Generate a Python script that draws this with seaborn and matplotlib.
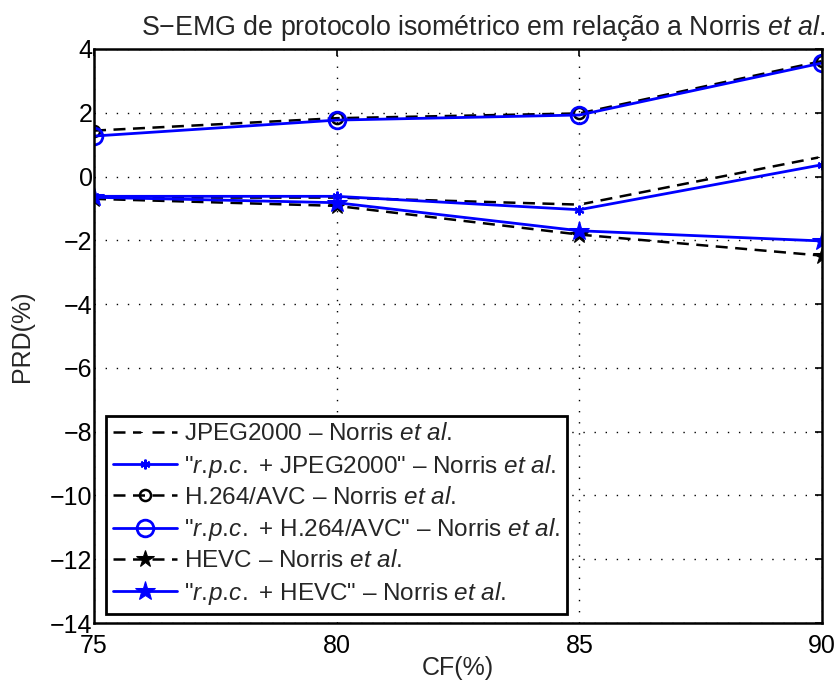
import matplotlib
matplotlib.use("Agg")
import matplotlib.pyplot as plt
import seaborn as sns

# data
cf = [75, 80, 85, 90]
jpeg_norris = [-0.66, -0.66, -0.88, 0.62]
rpc_jpeg_norris = [-0.62, -0.62, -1.04, 0.37]
h264_norris = [1.44, 1.83, 1.98, 3.62]
rpc_h264_norris = [1.27, 1.77, 1.93, 3.56]
hevc_norris = [-0.70, -0.92, -1.82, -2.48]
rpc_hevc_norris = [-0.65, -0.82, -1.70, -2.02]

yticks = list(range(-14, 5, 2))

sns.set_style("white")
plt.rcParams['font.family'] = ['Liberation Sans', 'DejaVu Sans']
plt.rcParams['mathtext.fontset'] = 'custom'
plt.rcParams['mathtext.rm'] = 'Liberation Sans'
plt.rcParams['mathtext.it'] = 'Liberation Sans:italic'

fig = plt.figure(figsize=(8.38, 6.91), dpi=100)
ax = fig.add_axes([0.1122, 0.0984, 0.8687, 0.8307])

etal = r"$\it{et\ al.}$"
rpc = r"$\it{r.\!p.\!c.}$"
asterisk = (6, 2, 0)
dash = (0, (4.8, 3))

sns.lineplot(x=cf, y=jpeg_norris, ax=ax, color='black', linestyle=dash, lw=1.8,
             marker=asterisk, markersize=7, markeredgewidth=1.5,
             label="JPEG2000 – Norris " + etal)
sns.lineplot(x=cf, y=rpc_jpeg_norris, ax=ax, color='blue', lw=2, marker=asterisk,
             markersize=7, markeredgewidth=1.5, mec='blue',
             label='"' + rpc + ' + JPEG2000" – Norris ' + etal)
sns.lineplot(x=cf, y=h264_norris, ax=ax, color='black', linestyle=dash, lw=1.8,
             marker='o', markersize=8, mfc='none', mec='black', markeredgewidth=1.8,
             label="H.264/AVC – Norris " + etal)
sns.lineplot(x=cf, y=rpc_h264_norris, ax=ax, color='blue', lw=2, marker='o',
             markersize=12, mfc='none', mec='blue', markeredgewidth=2,
             label='"' + rpc + ' + H.264/AVC" – Norris ' + etal)
sns.lineplot(x=cf, y=hevc_norris, ax=ax, color='black', linestyle=dash, lw=1.8,
             marker='*', markersize=13, mec='black', mfc='black',
             label="HEVC – Norris " + etal)
sns.lineplot(x=cf, y=rpc_hevc_norris, ax=ax, color='blue', lw=2, marker='*',
             markersize=15, mec='blue', mfc='blue',
             label='"' + rpc + ' + HEVC" – Norris ' + etal)

ax.set_xlim(75, 90)
ax.set_ylim(-14, 4)
ax.set_xticks(cf)
ax.set_yticks(yticks)
ax.grid(True, color='black', linestyle=(0, (1, 7)), lw=1.0)
ax.tick_params(direction='in', top=True, right=True, length=5, width=1.2,
               labelsize=18, colors='black')
ax.tick_params(axis='y', pad=1)
ax.tick_params(axis='x', pad=8)
for s in ax.spines.values():
    s.set_linewidth(1.8)
    s.set_color('black')

ax.set_xlabel("CF(%)", fontsize=18)
ax.set_ylabel("PRD(%)", fontsize=18)
ax.xaxis.set_label_coords(0.5, -0.058)
ax.yaxis.set_label_coords(-0.083, 0.5)
fig.text(0.985, 0.949, "S−EMG de protocolo isométrico em relação a Norris " + etal,
         ha='right', va='baseline', fontsize=19.3)

leg = ax.legend(loc='lower left', bbox_to_anchor=(0.0165, 0.0157), fontsize=17.5,
                frameon=True, fancybox=False, framealpha=1, handlelength=2.6,
                borderpad=0.3, labelspacing=0.3, handletextpad=0.3, borderaxespad=0)
leg.get_frame().set_edgecolor('black')
leg.get_frame().set_linewidth(2)

fig.savefig("out.png", dpi=100)
